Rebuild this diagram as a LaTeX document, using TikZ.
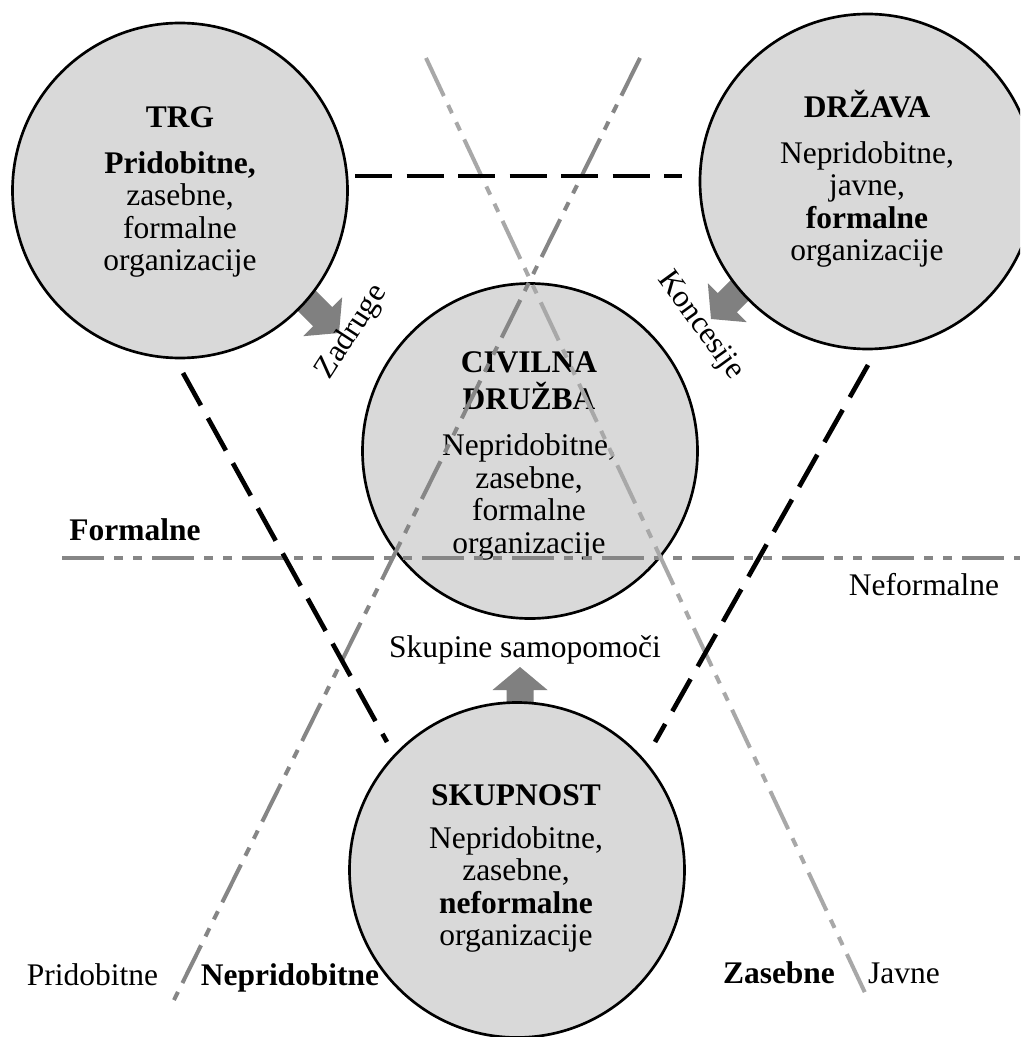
\documentclass[tikz,border=0pt]{standalone}
\usepackage{fontspec}
\setmainfont{Liberation Serif}
\definecolor{circfill}{HTML}{D9D9D9}
\definecolor{arrowgray}{HTML}{808080}
\definecolor{axisgray}{HTML}{868686}
\definecolor{lightaxis}{HTML}{A8A8A8}
\tikzset{
  orgcircle/.style={circle, draw=black, line width=2pt, fill=circfill, minimum size=251.25pt, inner sep=0pt},
  circtext/.style={anchor=base, inner sep=0pt, font=\fontsize{23.6pt}{24.4pt}\selectfont},
  lbl/.style={anchor=base, inner sep=0pt, font=\fontsize{23.6pt}{24.4pt}\selectfont},
  rotlbl/.style={inner sep=0pt, font=\fontsize{23.6pt}{24.4pt}\selectfont},
  blackdash/.style={draw=black, line width=3.5pt, dash pattern=on 27.75pt off 10.9pt},
  axisline/.style={line width=3pt, dash pattern=on 31.5pt off 7.5pt on 6.75pt off 7.5pt on 6.75pt off 7.5pt},
  fatarrow/.pic={\fill[arrowgray] (0,0) -- (-23,27.5) -- (-23,13.5) -- (-70,13.5) -- (-70,-13.5) -- (-23,-13.5) -- (-23,-27.5) -- cycle;}
}
\begin{document}
\begin{tikzpicture}[x=0.75pt,y=-0.75pt]
\clip (0,0) rectangle (1020,1037);
\fill[white] (0,0) rectangle (1020,1037);

% arrow tips
\coordinate (tipzad) at (339,333);
\coordinate (tipkon) at (711,319);
\coordinate (tipsam) at (520,667);
\pic (arrzad) [rotate=-45] at (tipzad) {fatarrow};
\pic (arrkon) [rotate=-135] at (tipkon) {fatarrow};
\pic (arrsam) [rotate=90] at (tipsam) {fatarrow};

% circles
\node[orgcircle] (trg) at (180,190.5) {};
\node[orgcircle] (drz) at (867.5,181.5) {};
\node[orgcircle] (civ) at (530,451) {};
\node[orgcircle] (sku) at (517,870) {};

% circle texts
\node[circtext] (trgtxt) at (180,128) {\begin{tabular}[t]{@{}c@{}}\textbf{TRG}\\[9.5pt]\textbf{Pridobitne,}\\ zasebne,\\ formalne\\ organizacije\end{tabular}};
\node[circtext] (drztxt) at (867,118) {\begin{tabular}[t]{@{}c@{}}\textbf{DRŽAVA}\\[9.5pt]Nepridobitne,\\ javne,\\ \textbf{formalne}\\ organizacije\end{tabular}};
\node[circtext] (civtxt) at (529,372) {\begin{tabular}[t]{@{}c@{}}\textbf{CIVILNA}\\ \textbf{DRUŽBA}\\[10.5pt]Nepridobitne,\\ zasebne,\\ formalne\\ organizacije\end{tabular}};
\node[circtext] (skutxt) at (516,805) {\begin{tabular}[t]{@{}c@{}}\textbf{SKUPNOST}\\[8pt]Nepridobitne,\\ zasebne,\\ \textbf{neformalne}\\ organizacije\end{tabular}};

% axis lines
\coordinate (fA) at (62,557.5);
\coordinate (fB) at (1020,557.5);
\coordinate (pA) at (640,58);
\coordinate (pB) at (173,1002);
\coordinate (zA) at (426,58);
\coordinate (zB) at (867,997);
\draw[axisline, draw=axisgray] (fA) -- (fB);
\draw[axisline, draw=axisgray] (pA) -- (pB);
\draw[axisline, draw=lightaxis] (zA) -- (zB);

% black dashed links
\coordinate (hA) at (355,176);
\coordinate (hB) at (682,176);
\coordinate (lA) at (183,373);
\coordinate (lB) at (387,742);
\coordinate (rA) at (868,365);
\coordinate (rB) at (655,742);
\draw[blackdash] (hA) -- (hB);
\draw[blackdash] (lA) -- (lB);
\draw[blackdash] (rA) -- (rB);

% labels
\node[lbl] (formalne) at (135,540) {\textbf{Formalne}};
\node[lbl] (neformalne) at (924,595) {Neformalne};
\node[lbl] (pridobitne) at (92.5,985) {Pridobitne};
\node[lbl] (nepridobitne) at (290,985) {\textbf{Nepridobitne}};
\node[lbl] (zasebne) at (779,983) {\textbf{Zasebne}};
\node[lbl] (javne) at (904,983) {Javne};
\node[lbl] (samopomoc) at (525,657) {Skupine samopomoči};
\node[rotlbl, rotate=57] (zadruge) at (352,332) {Zadruge};
\node[rotlbl, rotate=-54] (koncesije) at (700,326) {Koncesije};
\end{tikzpicture}
\end{document}
